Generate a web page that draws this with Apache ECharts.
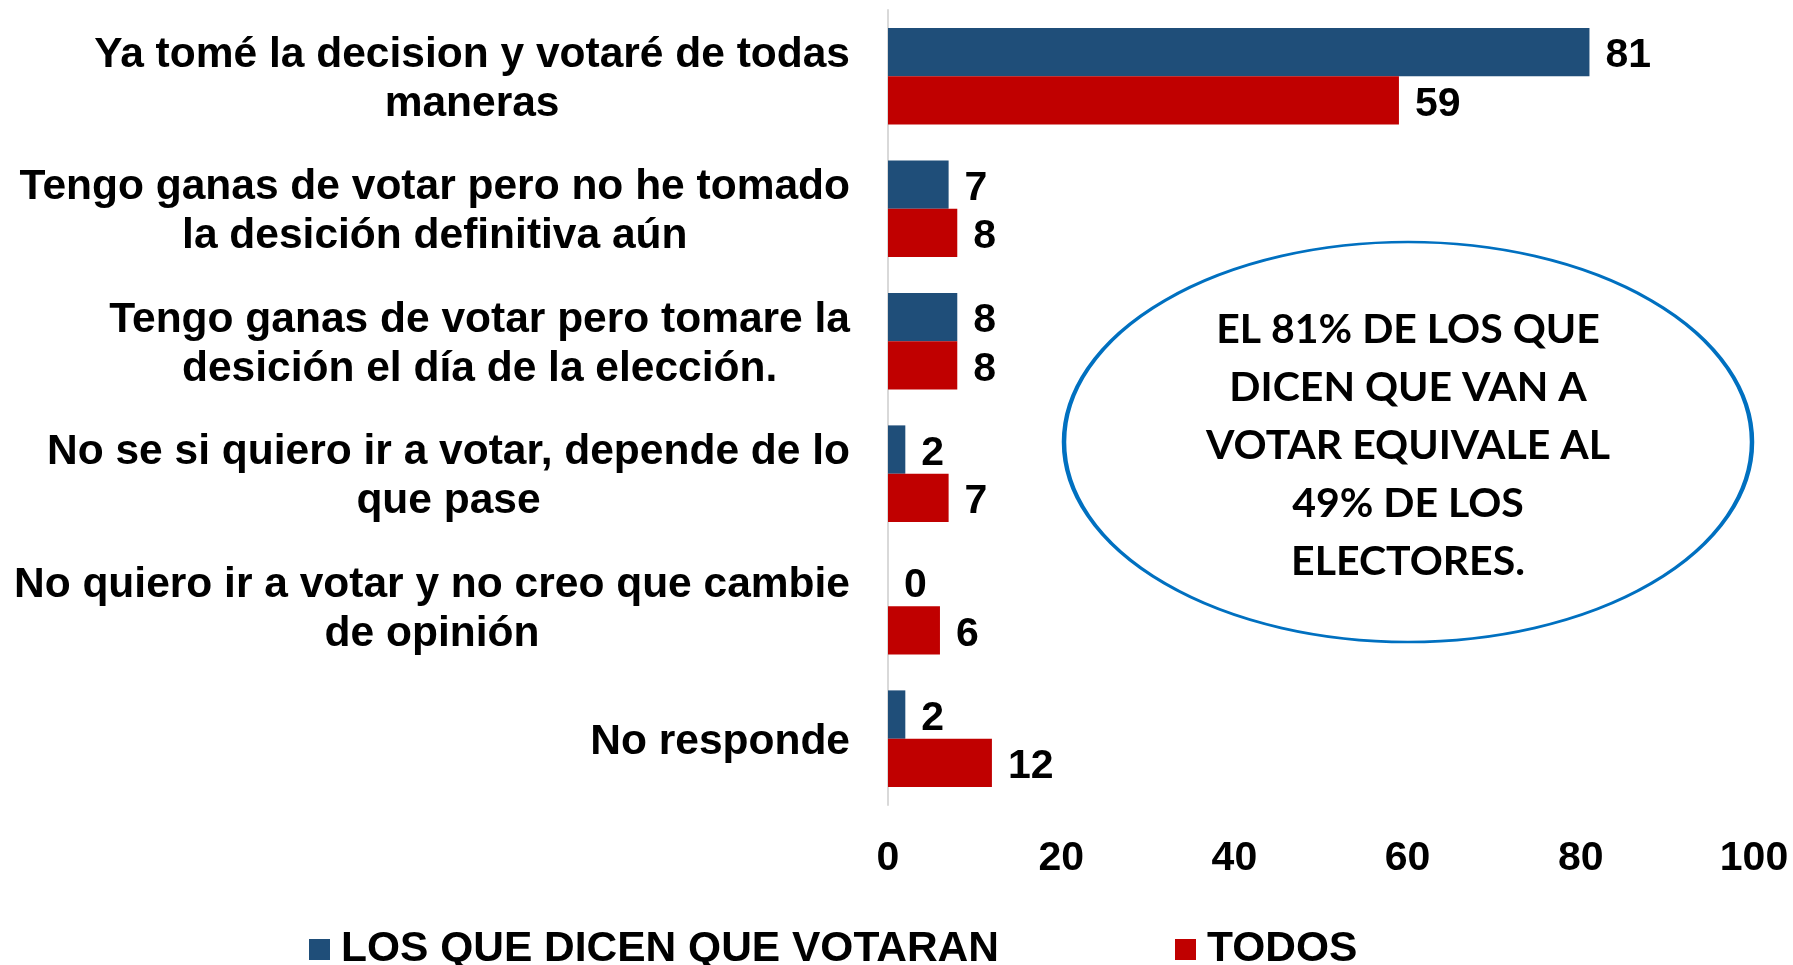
<!DOCTYPE html>
<html>
<head>
<meta charset="utf-8">
<script src="https://cdn.jsdelivr.net/npm/echarts@6/dist/echarts.min.js"></script>
<style>
html, body { margin: 0; padding: 0; background: #fff; }
#chart { width: 1793px; height: 965px; }
</style>
</head>
<body>
<div id="chart"></div>
<script>
var categories = [
    'Ya tomé la decision y votaré de todas\nmaneras',
    'Tengo ganas de votar pero no he tomado\nla desición definitiva aún',
    'Tengo ganas de votar pero tomare la\ndesición el día de la elección.',
    'No se si quiero ir a votar, depende de lo\nque pase',
    'No quiero ir a votar y no creo que cambie\nde opinión',
    'No responde'
];
var seriesNames = ['LOS QUE DICEN QUE VOTARAN', 'TODOS'];
var votaranValues = [81, 7, 8, 2, 0, 2];
var todosValues = [59, 8, 8, 7, 6, 12];
var noteText = 'EL 81% DE LOS QUE\nDICEN QUE VAN A\nVOTAR EQUIVALE AL\n49% DE LOS\nELECTORES.';

var font = '"Liberation Sans", Arial, sans-serif';

var valueLabel = {
    show: true,
    position: 'right',
    distance: 16,
    offset: [0, 4],
    fontFamily: font,
    fontWeight: 'bold',
    fontSize: 41,
    color: '#000'
};

var option = {
    animation: false,
    grid: { left: 888, right: 39, top: 10, bottom: 160 },
    legend: {
        data: seriesNames,
        left: 304,
        top: 923,
        itemWidth: 21,
        itemHeight: 21,
        itemGap: 176,
        icon: 'rect',
        textStyle: { fontFamily: font, fontWeight: 'bold', fontSize: 42.5, color: '#000', padding: [0, 0, 0, 6] }
    },
    xAxis: {
        type: 'value',
        min: 0,
        max: 100,
        interval: 20,
        axisLine: { show: false },
        axisTick: { show: false },
        splitLine: { show: false },
        axisLabel: { margin: 33, fontFamily: font, fontWeight: 'bold', fontSize: 41, color: '#000' }
    },
    yAxis: {
        type: 'category',
        inverse: true,
        data: categories,
        axisLine: { show: true, lineStyle: { color: '#d9d9d9', width: 2 } },
        axisTick: { show: false },
        axisLabel: {
            margin: 38,
            padding: [7, 0, 0, 0],
            fontFamily: font,
            fontWeight: 'bold',
            fontSize: 42.5,
            color: '#000',
            lineHeight: 49,
            formatter: function (v) {
                return v.split('\n').map(function (l) { return '{c|' + l + '}'; }).join('\n');
            },
            rich: {
                c: { align: 'center', fontFamily: font, fontWeight: 'bold', fontSize: 42.5, lineHeight: 49, color: '#000' }
            }
        }
    },
    series: [
        {
            name: seriesNames[0],
            type: 'bar',
            data: votaranValues,
            barGap: '0%',
            barCategoryGap: '27%',
            itemStyle: { color: '#1F4E79' },
            label: valueLabel
        },
        {
            name: seriesNames[1],
            type: 'bar',
            data: todosValues,
            itemStyle: { color: '#C00000' },
            label: valueLabel
        }
    ],
    graphic: [
        {
            type: 'circle',
            x: 1408,
            y: 442,
            scaleY: 200 / 344,
            shape: { cx: 0, cy: 0, r: 344 },
            style: { fill: '#fff', stroke: '#0070C0', lineWidth: 4.5, strokeNoScale: true },
            z: 10
        },
        {
            type: 'text',
            x: 1408,
            y: 446,
            style: {
                text: noteText,
                fontFamily: 'Lato, "Open Sans", sans-serif',
                fontWeight: 'bold',
                fontSize: 41,
                lineHeight: 58,
                fill: '#000',
                textAlign: 'center',
                textVerticalAlign: 'middle'
            },
            z: 11
        }
    ]
};

try {
    var chart = echarts.init(document.getElementById('chart'));
    chart.setOption(option);
} catch (e) {
    console.warn(e);
}
</script>
</body>
</html>
